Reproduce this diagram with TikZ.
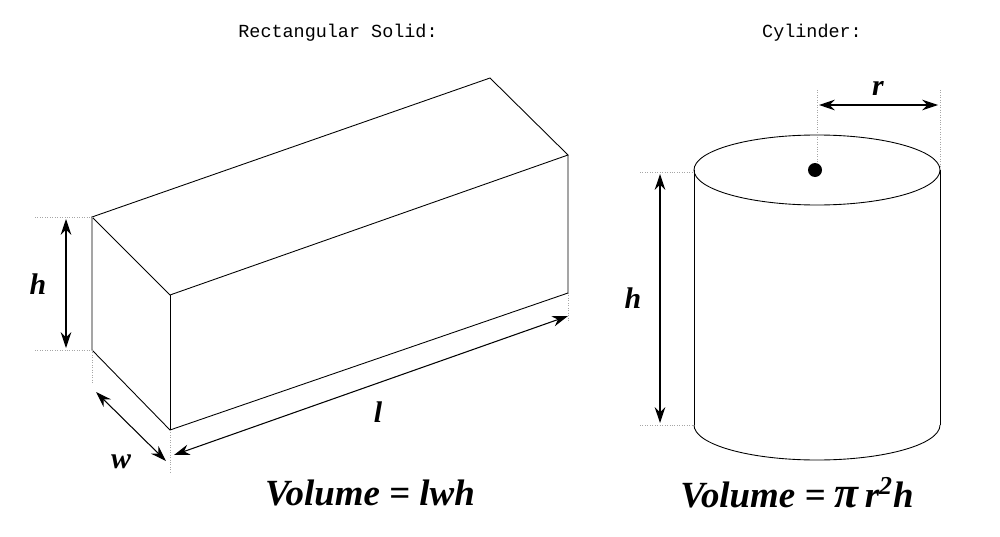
\documentclass[tikz,border=0pt]{standalone}
\usepackage{fontspec}
\setmainfont{Liberation Serif}
\setmonofont{Liberation Mono}
\usetikzlibrary{arrows.meta}
\begin{document}
\begin{tikzpicture}[x=0.02cm,y=-0.02cm,line width=0.5pt,
    dimline/.style={{Stealth[length=9pt,width=6pt]}-{Stealth[length=9pt,width=6pt]},line width=0.6pt},
    guide/.style={gray!70,densely dotted,line width=0.4pt},
    varlabel/.style={font=\bfseries\itshape\fontsize{17}{17}\selectfont},
    title/.style={font=\ttfamily\fontsize{10.5}{11}\selectfont},
    formula/.style={font=\bfseries\itshape\fontsize{21}{21}\selectfont}]
\useasboundingbox (0,0) rectangle (1000,537);

% Titles
\node[title] (tbox) at (338,33) {Rectangular Solid:};
\node[title] (tcyl) at (812,33) {Cylinder:};

% Box corners
\coordinate (a) at (92,217);
\coordinate (b) at (170,295);
\coordinate (c) at (568,155);
\coordinate (d) at (490,78);
\coordinate (e) at (92,350);
\coordinate (f) at (170,430);
\coordinate (g) at (568,293);

% Box edges
\draw (a) -- (b) -- (c) -- (d) -- cycle;
\draw (a) -- (e) -- (f) -- (g) -- (c);
\draw (b) -- (f);

% Guides for box
\draw[guide] (35,217) -- (a);
\draw[guide] (35,350) -- (e);
\draw[guide] (e) -- (92,382);
\draw[guide] (f) -- (170,472);
\draw[guide] (g) -- (568,322);

% Box dimensions
\coordinate (hb1) at (66,219);
\coordinate (hb2) at (66,348);
\draw[dimline] (hb1) -- (hb2);
\node[varlabel] (hbox) at (38,284) {h};
\coordinate (w1) at (96,392);
\coordinate (w2) at (166,461);
\draw[dimline] (w1) -- (w2);
\node[varlabel] (wbox) at (121,462) {w};
\coordinate (l1) at (174,455);
\coordinate (l2) at (568,316);
\draw[dimline] (l1) -- (l2);
\node[varlabel] (lbox) at (378,412) {l};

% Cylinder
\draw (817,170) ellipse [x radius=123, y radius=35];
\draw (694,170) -- (694,425);
\draw (940,170) -- (940,425);
\draw (694,425) arc[start angle=180,end angle=360,x radius=123,y radius=-35];
\fill (815,170) circle[radius=7];

% Guides for cylinder
\draw[guide] (817,90) -- (817,163);
\draw[guide] (940,90) -- (940,168);
\draw[guide] (640,172) -- (694,172);
\draw[guide] (640,425) -- (694,425);

% Cylinder dimensions
\coordinate (r1) at (819,105);
\coordinate (r2) at (938,105);
\draw[dimline] (r1) -- (r2);
\node[varlabel] (rcyl) at (878,88) {r};
\coordinate (hc1) at (660,174);
\coordinate (hc2) at (660,423);
\draw[dimline] (hc1) -- (hc2);
\node[varlabel] (hcyl) at (633,298) {h};

% Formulas
\node[formula] (vbox) at (370,493) {Volume = lwh};
\node[formula] (vcyl) at (797,493) {Volume = {\fontsize{25}{25}\selectfont π}\,r\textsuperscript{2}h};
\end{tikzpicture}
\end{document}
